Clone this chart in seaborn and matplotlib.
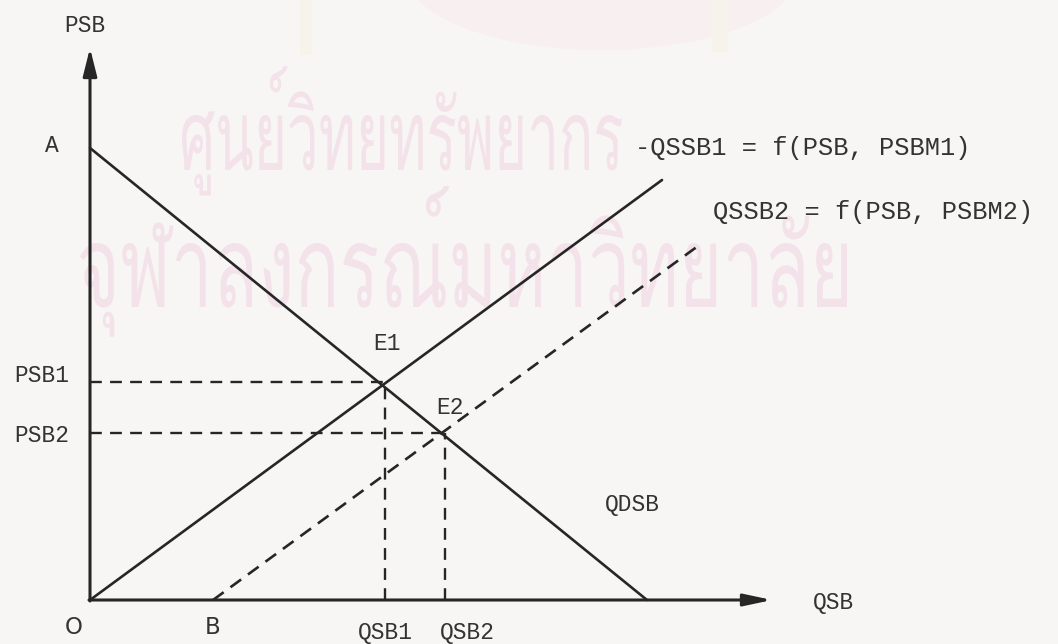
import matplotlib
matplotlib.use("Agg")
import matplotlib.pyplot as plt
import seaborn as sns
from matplotlib import font_manager
from matplotlib.ft2font import FT2Font
from matplotlib.textpath import TextPath
from matplotlib.patches import PathPatch, Ellipse, Rectangle
from matplotlib.font_manager import FontProperties
from matplotlib.transforms import Affine2D

# ---- data (diagram units: origin at O) ----
demand_q = [0, 557]
demand_p = [452, 0]
supply1_q = [0, 572]
supply1_p = [0, 420]
supply2_q = [123, 608]
supply2_p = [0, 354]
eq_labels = ["E1", "E2"]
eq_q = [295, 355]
eq_p = [218, 167]
axis_top = 552
axis_right = 682
watermark_lines = ["ศูนย์วิทยทรัพยากร", "จุฬาลงกรณ์มหาวิทยาลัย"]

sns.set_theme(style="white")
plt.rcParams['font.family'] = ['Liberation Mono', 'DejaVu Sans Mono']

fig = plt.figure(figsize=(10.58, 6.44), dpi=100)
bg = '#f8f6f4'
fig.patch.set_facecolor(bg)
ax = fig.add_axes([0, 0, 1, 1])
ax.set_facecolor(bg)
ax.set_xlim(-90, 968)
ax.set_ylim(-44, 600)
ax.axis('off')

ink = '#262626'
lw = 1.9
wm = '#f3e2ea'

# faint emblem remnants at the top
ax.add_patch(Ellipse((512, 625), 390, 150, color='#f8eff1', lw=0, zorder=0))
ax.add_patch(Rectangle((210, 545), 12, 55, color='#f6f3ea', lw=0, zorder=0))
ax.add_patch(Rectangle((622, 548), 16, 52, color='#f6f3ea', lw=0, zorder=0))

# Thai watermark (condensed to the scanned proportions)
thai_font = None
for f in font_manager.fontManager.ttflist:
    try:
        if ord('ศ') in FT2Font(f.fname).get_charmap():
            thai_font = f.name
            break
    except Exception:
        pass
if thai_font:
    fp = FontProperties(family=thai_font)
    ref = TextPath((0, 0), "กนร", size=100, prop=fp).get_extents()
    body_unit = ref.y1 - max(ref.y0, 0)
    # (text, left x, right x, body bottom y, body height) in axis units
    boxes = [(watermark_lines[0], 92, 532, 430, 55),
             (watermark_lines[1], -10, 757, 293, 64)]
    for s, x0, x1, yb, bh in boxes:
        tp = TextPath((0, 0), s, size=100, prop=fp)
        ext = tp.get_extents()
        sx = (x1 - x0) / (ext.x1 - ext.x0)
        sy = bh / body_unit
        tr = Affine2D().translate(-ext.x0, 0).scale(sx, sy).translate(x0, yb)
        ax.add_patch(PathPatch(tr.transform_path(tp), color=wm, lw=0, zorder=0))

# curves
sns.lineplot(x=demand_q, y=demand_p, ax=ax, color=ink, lw=lw, sort=False)
sns.lineplot(x=supply1_q, y=supply1_p, ax=ax, color=ink, lw=lw, sort=False)
l2 = sns.lineplot(x=supply2_q, y=supply2_p, ax=ax, color=ink, lw=lw, sort=False)
l2.lines[-1].set_linestyle((0, (5, 3.2)))

# dashed guides
for q, p in zip(eq_q, eq_p):
    ax.plot([0, q], [p, p], color=ink, lw=1.7, ls=(0, (5, 3.5)))
    ax.plot([q, q], [0, p], color=ink, lw=1.7, ls=(0, (5, 3.5)))

# axes with arrows
ax.annotate('', xy=(0, axis_top), xytext=(0, -1),
            arrowprops=dict(arrowstyle='-|>,head_length=1.4,head_width=0.35',
                            color=ink, lw=2.2, shrinkA=0, shrinkB=0))
ax.annotate('', xy=(axis_right, 0), xytext=(-1, 0),
            arrowprops=dict(arrowstyle='-|>,head_length=1.4,head_width=0.3',
                            color=ink, lw=2.2, shrinkA=0, shrinkB=0))

fs = 16.5
tc = '#333333'
ax.text(-5, 575, "PSB", fontsize=fs, color=tc, ha='center', va='center')
ax.text(-38, 455, "A", fontsize=fs, color=tc, ha='center', va='center')
ax.text(-48, 225, "PSB1", fontsize=fs, color=tc, ha='center', va='center')
ax.text(-48, 165, "PSB2", fontsize=fs, color=tc, ha='center', va='center')
ax.text(-16, -27, "O", fontsize=fs, color=tc, ha='center', va='center', family='DejaVu Sans')
ax.text(123, -27, "B", fontsize=fs, color=tc, ha='center', va='center', family='DejaVu Sans')
ax.text(eq_q[0], -33, "QSB1", fontsize=fs, color=tc, ha='center', va='center')
ax.text(eq_q[1] + 22, -33, "QSB2", fontsize=fs, color=tc, ha='center', va='center')
ax.text(eq_q[0] + 2, 257, eq_labels[0], fontsize=fs, color=tc, ha='center', va='center')
ax.text(eq_q[1] + 5, 192, eq_labels[1], fontsize=fs, color=tc, ha='center', va='center')
ax.text(542, 95, "QDSB", fontsize=fs, color=tc, ha='center', va='center')
ax.text(744, -3, "QSB", fontsize=fs, color=tc, ha='center', va='center')
ax.text(545, 452, "-QSSB1 = f(PSB, PSBM1)", fontsize=18.3, color=tc, ha='left', va='center')
ax.text(623, 388, "QSSB2 = f(PSB, PSBM2)", fontsize=18.3, color=tc, ha='left', va='center')

fig.savefig("out.png", dpi=100, facecolor=bg)
